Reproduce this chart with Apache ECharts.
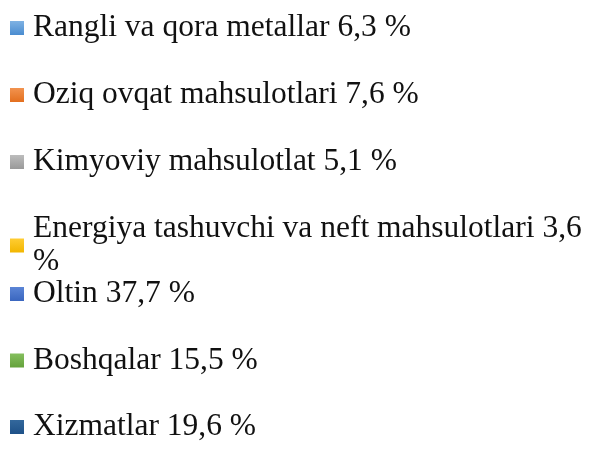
<!DOCTYPE html>
<html><head><meta charset="utf-8">
<script src="https://cdn.jsdelivr.net/npm/echarts@6/dist/echarts.min.js"></script>
<style>html,body{margin:0;padding:0;background:#fff}#c{width:593px;height:455px}</style>
</head><body><div id="c"></div>
<script>
const categories = ["Rangli va qora metallar", "Oziq ovqat mahsulotlari", "Kimyoviy mahsulotlat", "Energiya tashuvchi va neft mahsulotlari", "Oltin", "Boshqalar", "Xizmatlar"];
const values = [6.3, 7.6, 5.1, 3.6, 37.7, 15.5, 19.6];
const valueLabels = ["6,3", "7,6", "5,1", "3,6", "37,7", "15,5", "19,6"];
const colorsTop = ["#7fb2e3", "#f2934f", "#bcbcbc", "#ffcd33", "#5b85d6", "#85bf5e", "#33689c"];
const colorsBottom = ["#4a8cd0", "#e36f1e", "#999999", "#f2b600", "#3a66bf", "#64a23b", "#1e5188"];

const FONT_FAMILY = "'Liberation Serif', 'Times New Roman', Times, serif";
const FONT_SIZE = 31.5;
const MAX_TEXT_WIDTH = 560;

const grad = (i) => new echarts.graphic.LinearGradient(0, 0, 0, 1, [
  {offset: 0, color: colorsTop[i]}, {offset: 1, color: colorsBottom[i]}]);

const data = categories.map((c, i) => ({name: c, value: values[i], itemStyle: {color: grad(i)}}));

// word-wrap labels like the original legend (no leading spaces on the new line)
const ctx = document.createElement('canvas').getContext('2d');
ctx.font = FONT_SIZE + 'px ' + FONT_FAMILY;
function wrap(text) {
  const words = text.split(' ');
  const lines = [];
  let cur = '';
  words.forEach(w => {
    const t = cur ? cur + ' ' + w : w;
    if (cur && ctx.measureText(t).width > MAX_TEXT_WIDTH) { lines.push(cur); cur = w; }
    else cur = t;
  });
  lines.push(cur);
  return lines.join('\n');
}
const labelOf = {};
categories.forEach((c, i) => { labelOf[c] = wrap(c + ' ' + valueLabels[i] + ' %'); });

const textStyle = {fontFamily: FONT_FAMILY, fontSize: FONT_SIZE, color: '#111', lineHeight: 33, padding: [0, 0, 0, 4]};
const common = {orient: 'vertical', left: 10, itemWidth: 14, itemHeight: 14,
  icon: 'rect', selectedMode: false, textStyle: textStyle, formatter: n => labelOf[n], padding: 0};

const chart = echarts.init(document.getElementById('c'));
chart.setOption({
  animation: false,
  legend: [
    Object.assign({}, common, {top: 11.5, itemGap: 34, data: categories.slice(0, 4)}),
    Object.assign({}, common, {top: 277.5, itemGap: 33.5, data: categories.slice(4)})
  ],
  series: [{type: 'pie', radius: [0, 0], center: ['50%', '50%'], label: {show: false}, labelLine: {show: false}, silent: true, data: data}]
});
</script></body></html>
